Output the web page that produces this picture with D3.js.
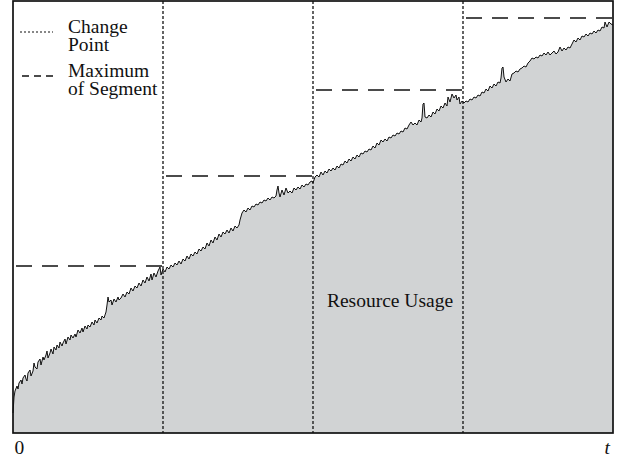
<!DOCTYPE html>
<html>
<head>
<meta charset="utf-8">
<script src="https://cdn.jsdelivr.net/npm/d3@7/dist/d3.min.js"></script>
<style>
  html, body { margin: 0; padding: 0; background: #ffffff; }
  svg { display: block; }
  text { font-family: "Liberation Serif", "Times New Roman", serif; fill: #111111; }
</style>
</head>
<body>
<svg id="chart" width="626" height="464"></svg>
<script>
// ---- data: [time, resource usage] ----
const usageSeries = [
[0,20],[1,36],[2,42],[4,47],[5,44],[6,50],[8,53],[9,49],[10,55],[12,58],[13,54],[14,52],[15,60],[17,63],[18,57],[20,62],[21,70],[22,66],[24,64],[25,71],
[27,74],[28,68],[30,76],[31,73],[33,78],[34,82],[35,75],[37,80],[38,84],[40,79],[41,86],[43,83],[44,88],[46,85],[47,91],[49,87],[50,90],[52,94],[53,89],[55,96],
[57,93],[58,98],[60,95],[62,99],[63,96],[65,103],[67,100],[69,105],[70,101],[72,107],[74,104],[75,108],[77,106],[79,111],[81,108],[82,113],[84,110],[86,115],[88,113],[89,117],
[91,115],[93,121],[94,128],[95,136],[96,131],[98,133],[99,128],[101,134],[103,131],[105,136],[106,133],[108,135],
[110,139],[112,136],[114,141],[116,139],[118,145],[120,142],[122,147],[124,145],[126,150],[128,147],[130,153],[132,150],[134,156],[136,152],[138,159],
[139,153],[141,160],[143,156],[145,162],[147,166],[148,158],[150,164],[152,161],[154,166],[156,164],[158,168],[160,166],[162,170],[164,168],[166,172],[168,169],[170,174],[172,172],[174,177],[176,174],
[178,179],[180,177],[182,181],[184,179],[186,184],[188,182],[190,186],[192,184],[194,190],[196,187],[198,193],[200,190],[202,196],[204,193],[206,199],[208,196],[210,201],[212,199],[214,203],[216,200],
[218,205],[220,202],[222,207],[224,205],[226,208],[227,213],[229,220],[231,223],[233,221],[235,225],[237,223],[239,227],[241,226],[243,229],[245,228],[247,231],[249,230],[251,233],[253,232],[255,235],
[257,233],[259,236],[261,235],[263,237],[264,243],[265,247],[266,240],[267,236],[269,243],[271,238],[273,245],[275,240],[277,242],[279,240],[281,245],[283,243],[285,246],[287,244],[289,248],[291,246],
[293,249],[295,248],[297,251],[299,252],[300,250],[302,256],[304,258],[306,256],[308,261],[310,258],[312,262],[314,260],[316,264],[318,262],[320,265],[322,263],[324,267],[326,265],[328,269],[330,268],
[332,272],[334,270],[336,274],[338,272],[340,276],[342,274],[344,278],[346,276],[348,280],[350,279],[352,282],[354,281],[356,284],[358,283],[360,287],[362,285],[364,290],[366,288],[368,293],[370,291],
[372,294],[374,292],[376,296],[378,295],[380,298],[382,297],[384,300],[386,299],[388,302],[390,301],[392,305],[394,304],[396,308],[398,311],[400,308],[402,310],[404,308],[406,313],[408,311],[409,315],
[410,329],[411,330],[412,316],[414,315],[416,318],[418,316],[420,321],[422,319],[424,324],[426,322],[428,327],[430,325],[432,330],[434,327],[435,336],[437,331],[439,339],[441,335],[443,338],[444,333],
[446,336],[447,329],[449,332],[451,330],[453,332],[455,331],[457,334],[459,333],[461,336],[463,335],[465,338],[467,337],[469,341],[471,340],[473,344],[475,342],[477,347],[479,345],[481,349],[483,347],
[485,351],[487,350],[488,355],[489,365],[490,366],[491,356],[493,351],[495,354],[497,352],[499,359],[501,360],[503,362],[505,361],[507,364],[509,365],[511,367],[513,366],[515,370],[517,372],[519,375],
[521,374],[523,376],[525,375],[527,378],[529,377],[531,380],[533,378],[535,381],[537,378],[539,380],[541,382],[543,379],[545,381],[547,386],[549,382],[551,385],[553,383],[555,386],[557,385],[559,389],
[561,393],[563,391],[565,395],[567,393],[569,397],[571,396],[573,399],[575,397],[577,400],[579,399],[581,402],[583,400],[585,403],[587,402],[589,406],[591,405],[592,411],[594,406],[596,411],[598,409],[600,408]
];
const changePoints = [150, 300, 450];
const segStarts = [0, 150, 300, 450];
const segEnds = [150, 300, 450, 600];
const segMax = [167, 257, 343, 415];
const tickValues = [0, 600];
const tickLabels = ["0", "t"];
const legendLabels = [["Change", "Point"], ["Maximum", "of Segment"]];
const areaLabel = "Resource Usage";

// ---- drawing ----
const svg = d3.select("#chart");
const x = d3.scaleLinear().domain([0, 600]).range([13, 613]);
const y = d3.scaleLinear().domain([0, 432]).range([433, 1]);
const pts = usageSeries.map(d => ({ t: d[0], v: d[1] }));

svg.append("path")
  .datum(pts)
  .attr("fill", "#d1d3d4")
  .attr("d", d3.area().x(d => x(d.t)).y0(y(0)).y1(d => y(d.v)));

svg.append("path")
  .datum(pts)
  .attr("fill", "none")
  .attr("stroke", "#111111")
  .attr("stroke-width", 1)
  .attr("stroke-linejoin", "round")
  .attr("d", d3.line().x(d => x(d.t)).y(d => y(d.v)));

// change points (dotted verticals)
svg.selectAll("line.cp").data(changePoints).enter().append("line")
  .attr("class", "cp")
  .attr("x1", d => x(d)).attr("x2", d => x(d))
  .attr("y1", y(432)).attr("y2", y(0))
  .attr("stroke", "#111111").attr("stroke-width", 1.3)
  .attr("stroke-dasharray", "3,2");

// segment maxima (dashed horizontals)
svg.selectAll("line.mx").data(segMax).enter().append("line")
  .attr("class", "mx")
  .attr("x1", (d, i) => x(segStarts[i]) + 3).attr("x2", (d, i) => x(segEnds[i]))
  .attr("y1", d => y(d)).attr("y2", d => y(d))
  .attr("stroke", "#111111").attr("stroke-width", 1.5)
  .attr("stroke-dasharray", "16,10");

// frame
svg.append("rect")
  .attr("x", x(0)).attr("y", y(432))
  .attr("width", x(600) - x(0)).attr("height", y(0) - y(432))
  .attr("fill", "none").attr("stroke", "#111111").attr("stroke-width", 1.7);

// tick labels
svg.selectAll("text.tick").data(tickValues).enter().append("text")
  .attr("class", "tick")
  .attr("x", (d, i) => i === 0 ? x(d) + 1.5 : x(d) - 3)
  .attr("y", 454)
  .attr("text-anchor", (d, i) => i === 0 ? "start" : "end")
  .style("font-style", (d, i) => i === 0 ? "normal" : "italic")
  .style("font-size", "19.5px")
  .text((d, i) => tickLabels[i]);

// legend
const legY = [33, 77];
svg.append("line").attr("x1", 20).attr("x2", 53).attr("y1", 32).attr("y2", 32)
  .attr("stroke", "#111111").attr("stroke-width", 1.2).attr("stroke-dasharray", "2,2");
svg.append("line").attr("x1", 22).attr("x2", 54).attr("y1", 76).attr("y2", 76)
  .attr("stroke", "#111111").attr("stroke-width", 1.4).attr("stroke-dasharray", "7,5");
legendLabels.forEach((lines, i) => {
  const t = svg.append("text").attr("x", 68).attr("y", legY[i]).style("font-size", "19.5px");
  lines.forEach((s, j) => {
    t.append("tspan").attr("x", 68).attr("dy", j === 0 ? 0 : 17.5).text(s);
  });
});

svg.append("text")
  .attr("x", 390).attr("y", 307)
  .attr("text-anchor", "middle")
  .style("font-size", "19.5px")
  .text(areaLabel);
</script>
</body>
</html>
